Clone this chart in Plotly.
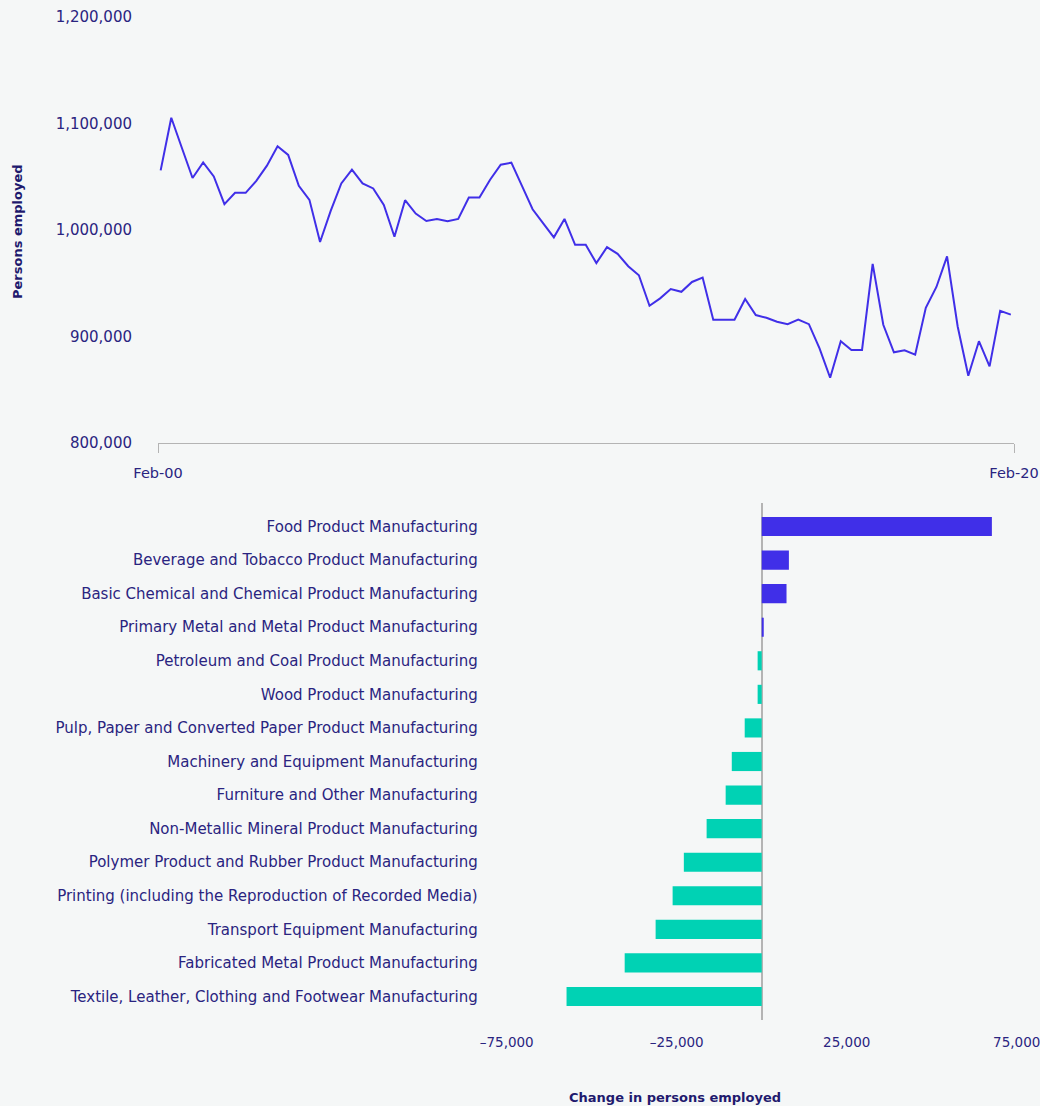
import plotly.graph_objects as go

# ---- Data ----
line_start = "Feb-00"
line_end = "Feb-20"
persons_employed = [
    1056000, 1105400, 1077000, 1048800, 1063500, 1050300, 1024200, 1034900, 1034900, 1046200,
    1060400, 1078600, 1070500, 1041500, 1028300, 988700, 1017900, 1043700, 1056600, 1043700,
    1039000, 1023600, 993700, 1028000, 1015400, 1008500, 1010400, 1008200, 1010400, 1030500,
    1030500, 1047200, 1061300, 1063200, 1041500, 1019500, 1006300, 993100, 1010400, 986100,
    986100, 968900, 983900, 977600, 966000, 957500, 928900, 935800, 944600, 942000,
    951200, 955400, 915800, 915800, 915800, 935200, 920100, 917600, 913800, 911600,
    915800, 911600, 888900, 861300, 895600, 887400, 887400, 968200, 911000, 885200,
    887100, 883000, 927000, 946500, 975200, 909400, 863200, 895600, 872000, 924100,
    920500,
]
quarter_index = list(range(len(persons_employed)))

y_ticks = [800000, 900000, 1000000, 1100000, 1200000]
y_tick_text = ["800,000", "900,000", "1,000,000", "1,100,000", "1,200,000"]

industries = [
    "Food Product Manufacturing",
    "Beverage and Tobacco Product Manufacturing",
    "Basic Chemical and Chemical Product Manufacturing",
    "Primary Metal and Metal Product Manufacturing",
    "Petroleum and Coal Product Manufacturing",
    "Wood Product Manufacturing",
    "Pulp, Paper and Converted Paper Product Manufacturing",
    "Machinery and Equipment Manufacturing",
    "Furniture and Other Manufacturing",
    "Non-Metallic Mineral Product Manufacturing",
    "Polymer Product and Rubber Product Manufacturing",
    "Printing (including the Reproduction of Recorded Media)",
    "Transport Equipment Manufacturing",
    "Fabricated Metal Product Manufacturing",
    "Textile, Leather, Clothing and Footwear Manufacturing",
]
change = [67700, 8000, 7300, 600, -1200, -1200, -5000, -8800, -10600,
          -16200, -22900, -26200, -31200, -40300, -57400]

bar_ticks = [-75000, -25000, 25000, 75000]
bar_tick_text = ["–75,000", "–25,000", "25,000", "75,000"]

# ---- Style ----
BG = "#f5f7f7"
BLUE = "#402fe8"
TEAL = "#00d2b4"
TEXT = "#2a2480"
TITLE = "#1f1a6e"
AXIS = "#b4b4b4"
FONT = "DejaVu Sans"
W, H = 1040, 1106

bar_colors = [BLUE if v >= 0 else TEAL for v in change]

fig = go.Figure()
fig.add_trace(go.Scatter(
    x=quarter_index, y=persons_employed, mode="lines",
    line=dict(color=BLUE, width=2), xaxis="x", yaxis="y", showlegend=False,
))
fig.add_trace(go.Bar(
    x=change, y=industries, orientation="h", marker=dict(color=bar_colors, line=dict(width=0)),
    width=0.57, xaxis="x2", yaxis="y2", showlegend=False,
))

x0 = quarter_index[0] - 0.25
x1 = quarter_index[-1] + 0.3

fig.update_layout(
    width=W, height=H,
    margin=dict(l=0, r=0, t=0, b=0),
    paper_bgcolor=BG, plot_bgcolor=BG,
    font=dict(family=FONT, color=TEXT, size=14),
    xaxis=dict(
        domain=[158 / W, 1014 / W], range=[x0, x1],
        tickvals=[x0, x1], ticktext=[line_start, line_end],
        showline=True, linecolor=AXIS, linewidth=1,
        ticks="outside", ticklen=9, tickcolor=AXIS, tickwidth=1,
        ticklabelstandoff=8, ticklabeloverflow="allow",
        showgrid=False, zeroline=False, automargin=False,
        tickfont=dict(size=14.5, color=TEXT),
    ),
    yaxis=dict(
        domain=[1 - 443 / H, 1 - 17 / H], range=[800000, 1200000],
        tickvals=y_ticks, ticktext=y_tick_text,
        showline=False, showgrid=False, zeroline=False, ticks="",
        ticklabelstandoff=25, automargin=False, ticklabeloverflow="allow",
        tickfont=dict(size=15, color=TEXT),
    ),
    xaxis2=dict(
        domain=[506.7 / W, 1016.7 / W], range=[-75000, 75000], anchor="y2",
        tickvals=bar_ticks, ticktext=bar_tick_text,
        showline=False, showgrid=False,
        zeroline=True, zerolinecolor=AXIS, zerolinewidth=1.5,
        ticks="", ticklabelstandoff=12, automargin=False,
        ticklabeloverflow="allow",
        tickfont=dict(size=13.5, color=TEXT),
    ),
    yaxis2=dict(
        domain=[1 - 1020 / H, 1 - 503 / H], anchor="x2",
        categoryorder="array", categoryarray=industries,
        range=[len(industries) - 0.3, -0.7],
        showline=False, showgrid=False, zeroline=False, ticks="",
        ticklabelstandoff=28, automargin=False,
        tickfont=dict(size=15, color=TEXT),
    ),
    annotations=[
        dict(text="<b>Persons employed</b>", xref="paper", yref="paper",
             x=17 / W, y=1 - 232 / H, textangle=-90, showarrow=False,
             font=dict(size=13, color=TITLE), xanchor="center", yanchor="middle"),
        dict(text="<b>Change in persons employed</b>", xref="paper", yref="paper",
             x=674.5 / W, y=1 - 1097 / H, showarrow=False,
             font=dict(size=13, color=TITLE), xanchor="center", yanchor="middle"),
    ],
)

fig.write_html("out.html", config={"displayModeBar": False})

# remove the default page margin so the figure fills the window
with open("out.html", "r", encoding="utf-8") as f:
    html = f.read()
html = html.replace(
    "<head>",
    "<head><style>html,body{margin:0;padding:0;overflow:hidden;background:%s}</style>" % BG,
    1,
)
with open("out.html", "w", encoding="utf-8") as f:
    f.write(html)
